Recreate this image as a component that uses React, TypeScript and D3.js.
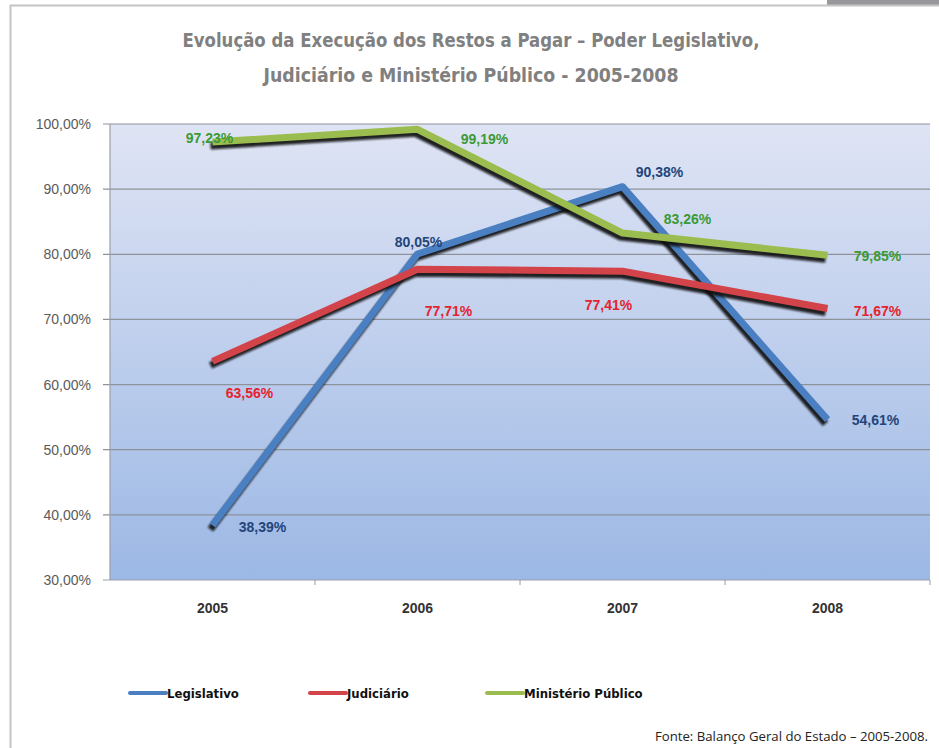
import * as React from 'react';
import * as d3 from 'd3';

const years: string[] = ['2005', '2006', '2007', '2008'];
const legislativo: number[] = [38.39, 80.05, 90.38, 54.61];
const judiciario: number[] = [63.56, 77.71, 77.41, 71.67];
const ministerio: number[] = [97.23, 99.19, 83.26, 79.85];
const yTicks: number[] = [30, 40, 50, 60, 70, 80, 90, 100];
const titleLines: string[] = [
	'Evolução da Execução dos Restos a Pagar – Poder Legislativo,',
	'Judiciário e Ministério Público - 2005-2008'
];

const series = [
	{ name: 'Legislativo', values: legislativo, color: '#4a7fc1', label: '#23457a' },
	{ name: 'Judiciário', values: judiciario, color: '#d2434a', label: '#e5242e' },
	{ name: 'Ministério Público', values: ministerio, color: '#9bbd4f', label: '#3b9a35' }
];

// label offsets from each point (dx, dy), per series
const labelOffsets: number[][][] = [
	[[50, 2], [1, -12], [37, -15], [48, 0]],
	[[37, 32], [31, 42], [-14, 34], [50, 2]],
	[[-3, -4], [67, 10], [65, -14], [50, 1]]
];

const fmt = (v: number) => v.toFixed(2).replace('.', ',') + '%';

export default function App() {
	const width = 939;
	const height = 748;
	const plot = { left: 110, right: 930, top: 124, bottom: 580 };

	const x = d3.scaleBand<string>().domain(years).range([plot.left, plot.right]);
	const y = d3.scaleLinear().domain([30, 100]).range([plot.bottom, plot.top]);
	const cx = (i: number) => (x(years[i]) as number) + x.bandwidth() / 2;

	const line = d3
		.line<number>()
		.x((d, i) => cx(i))
		.y((d) => y(d));

	const legendX = [130, 310, 487];
	const titleWidths = [577, 415];

	return (
		<svg
			width={width}
			height={height}
			style={{ position: 'absolute', left: 0, top: 0, background: '#fff' }}
		>
			<defs>
				<linearGradient id="bg" x1="0" y1="0" x2="0" y2="1">
					<stop offset="0%" stopColor="#dfe4f4" />
					<stop offset="100%" stopColor="#9cb8e5" />
				</linearGradient>
				<filter id="blur" x="-10%" y="-10%" width="120%" height="120%">
					<feGaussianBlur stdDeviation="1.2" />
				</filter>
			</defs>

			{/* frame */}
			<rect x={827} y={0} width={112} height={5} fill="#98989c" />
			<line x1={10} x2={939} y1={5.5} y2={5.5} stroke="#c4c4c4" strokeWidth={2} />
			<line x1={10.5} x2={10.5} y1={5} y2={748} stroke="#c4c4c4" strokeWidth={2} />

			{/* title */}
			<g fontFamily="'DejaVu Sans Condensed', Roboto, sans-serif" fontWeight={700} fill="#808080" fontSize={20} textAnchor="middle">
				{titleLines.map((t, i) => (
					<text key={i} x={471} y={47 + i * 35} textLength={titleWidths[i]} lengthAdjust="spacingAndGlyphs">
						{t}
					</text>
				))}
			</g>

			{/* plot background */}
			<rect x={plot.left} y={plot.top} width={plot.right - plot.left} height={plot.bottom - plot.top} fill="url(#bg)" />

			{/* grid + y axis */}
			<g fontFamily="'Liberation Sans', Arial, sans-serif" fontSize={14} fill="#5a5a5a">
				{yTicks.map((t) => (
					<g key={t}>
						<line x1={plot.left - 7} x2={plot.right} y1={y(t)} y2={y(t)} stroke={t === 30 ? '#9aa0ac' : '#8e929a'} strokeWidth={1.2} />
						<text x={91} y={y(t) + 5} textAnchor="end">{fmt(t)}</text>
					</g>
				))}
				<line x1={plot.left} x2={plot.left} y1={plot.top} y2={plot.bottom} stroke="#9a9ea8" strokeWidth={1.2} />
				{years.map((yr) => (
					<line key={yr} x1={(x(yr) as number) + x.bandwidth()} x2={(x(yr) as number) + x.bandwidth()} y1={plot.bottom} y2={plot.bottom + 5} stroke="#9a9ea8" />
				))}
			</g>

			{/* x labels */}
			<g fontFamily="'Liberation Sans', Arial, sans-serif" fontSize={14} fontWeight={700} fill="#333" textAnchor="middle">
				{years.map((yr, i) => (
					<text key={yr} x={cx(i)} y={613}>{yr}</text>
				))}
			</g>

			{/* lines with shadows */}
			{series.map((s) => (
				<g key={s.name}>
					<path
						d={line(s.values) as string}
						transform="translate(-2,4)"
						fill="none"
						stroke="#111"
						strokeWidth={7}
						strokeLinejoin="round"
						opacity={0.9}
						filter="url(#blur)"
					/>
					<path d={line(s.values) as string} fill="none" stroke={s.color} strokeWidth={7} strokeLinejoin="round" />
				</g>
			))}

			{/* data labels */}
			<g fontFamily="'Liberation Sans', Arial, sans-serif" fontSize={14} fontWeight={700} textAnchor="middle">
				{series.map((s, si) =>
					s.values.map((v, i) => (
						<text key={s.name + i} x={cx(i) + labelOffsets[si][i][0]} y={y(v) + labelOffsets[si][i][1] + 5} fill={s.label}>
							{fmt(v)}
						</text>
					))
				)}
			</g>

			{/* legend */}
			<g fontFamily="Tahoma, 'DejaVu Sans Condensed', sans-serif" fontSize={13} fontWeight={700} fill="#111">
				{series.map((s, i) => (
					<g key={s.name}>
						<line x1={legendX[i]} x2={legendX[i] + 36} y1={693} y2={693} stroke={s.color} strokeWidth={4} strokeLinecap="round" />
						<text x={legendX[i] + 37} y={698}>{s.name}</text>
					</g>
				))}
			</g>

			{/* source */}
			<text x={928} y={741} textAnchor="end" fontFamily="'Open Sans', 'Noto Sans', sans-serif" fontSize={13.2} fill="#222">
				Fonte: Balanço Geral do Estado – 2005-2008.
			</text>
		</svg>
	);
}
